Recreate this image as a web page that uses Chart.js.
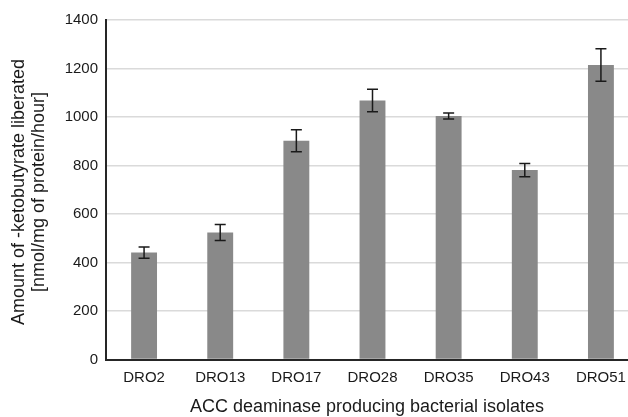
<!DOCTYPE html>
<html>
<head>
<meta charset="utf-8">
<script src="https://cdn.jsdelivr.net/npm/chart.js@4"></script>
<style>
  html, body { margin: 0; padding: 0; background: #fff; overflow: hidden; width: 628px; height: 417px; }
  #wrap { position: absolute; left: 0; top: 0; width: 650px; height: 417px; }
</style>
</head>
<body>
<div id="wrap"><canvas id="accChart" width="650" height="417"></canvas></div>
<script>
// isolates and their ACC deaminase activity
var isolates = ['DRO2', 'DRO13', 'DRO17', 'DRO28', 'DRO35', 'DRO43', 'DRO51'];
var activity = [441, 524, 902, 1068, 1004, 781, 1214];
var errors   = [23, 33, 45, 46, 12, 27, 67];
var yTicks   = [0, 200, 400, 600, 800, 1000, 1200, 1400];

const yTitle = ['Amount of -ketobutyrate liberated', '[nmol/mg of protein/hour]'];
const xTitle = 'ACC deaminase producing bacterial isolates';

const fontFam = '"Liberation Sans", Arial, sans-serif';

// error bars drawn on top of the bars
var errorBars = {
  id: 'errorBars',
  afterDatasetsDraw: function(chart) {
    var ctx = chart.ctx;
    var y = chart.scales.y;
    var meta = chart.getDatasetMeta(0);
    ctx.save();
    ctx.strokeStyle = '#1a1a1a';
    ctx.lineWidth = 1.5;
    for (var i = 0; i < activity.length; i++) {
      var x = meta.data[i].x;
      var top = y.getPixelForValue(activity[i] + errors[i]);
      var bot = y.getPixelForValue(activity[i] - errors[i]);
      ctx.beginPath();
      ctx.moveTo(x, top); ctx.lineTo(x, bot);
      ctx.moveTo(x - 5.5, top); ctx.lineTo(x + 5.5, top);
      ctx.moveTo(x - 5.5, bot); ctx.lineTo(x + 5.5, bot);
      ctx.stroke();
    }
    ctx.restore();
  }
};

// axis titles
var axisTitles = {
  id: 'axisTitles',
  afterDraw: function(chart) {
    var ctx = chart.ctx;
    ctx.save();
    ctx.fillStyle = '#1a1a1a';
    ctx.font = '18px ' + fontFam;
    ctx.textAlign = 'center';
    ctx.textBaseline = 'middle';
    ctx.fillText(xTitle, 367, 407);
    ctx.translate(0, 192);
    ctx.rotate(-Math.PI / 2);
    ctx.fillText(yTitle[0], 0, 19);
    ctx.fillText(yTitle[1], 0, 39);
    ctx.restore();
  }
};

var data = {
  labels: isolates,
  datasets: [{
    data: activity,
    backgroundColor: '#898989',
    borderWidth: 0,
    barPercentage: 0.34,
    categoryPercentage: 1.0
  }]
};

var config = {
  type: 'bar',
  data: data,
  options: {
    responsive: false,
    devicePixelRatio: 1,
    animation: false,
    layout: { padding: { top: 20, right: 11, left: 0, bottom: 0 } },
    plugins: { legend: { display: false }, tooltip: { enabled: false } },
    scales: {
      x: {
        grid: { display: false, drawTicks: false },
        border: { display: true, color: '#262626', width: 2 },
        ticks: { color: '#1a1a1a', font: { family: fontFam, size: 15 }, padding: 9, maxRotation: 0 },
        afterFit: function(scale) { scale.height = 57.5; }
      },
      y: {
        min: 0,
        max: 1400,
        afterBuildTicks: function(scale) { scale.ticks = yTicks.map(function(v) { return { value: v }; }); },
        grid: { color: '#dadada', lineWidth: 1.5, drawTicks: false },
        border: { display: true, color: '#262626', width: 2 },
        ticks: {
          color: '#1a1a1a', font: { family: fontFam, size: 15 }, padding: 8,
          callback: function(v) { return String(v); }
        },
        afterFit: function(scale) { scale.width = 106; }
      }
    }
  },
  plugins: [errorBars, axisTitles]
};

var accChart = new Chart(document.getElementById('accChart'), config);
</script>
</body>
</html>
